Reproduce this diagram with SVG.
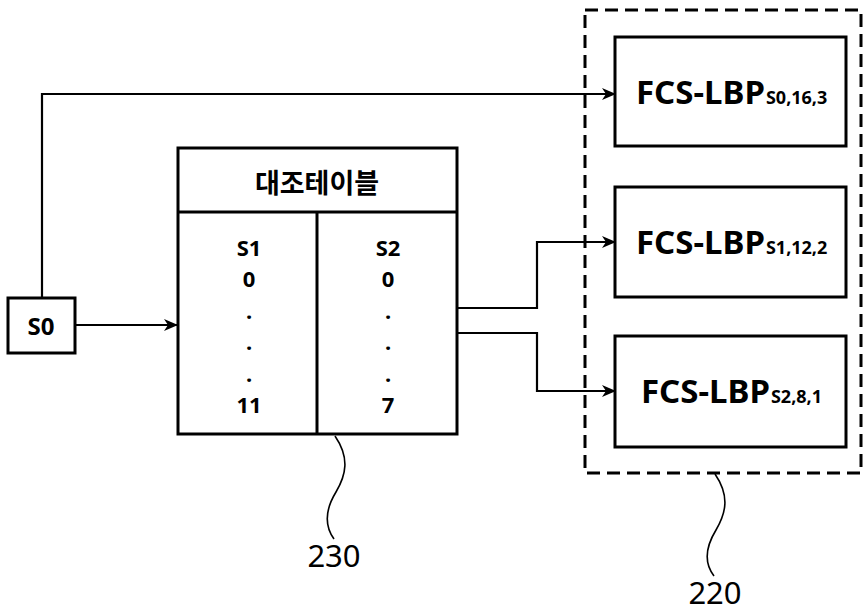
<svg xmlns="http://www.w3.org/2000/svg" width="864" height="612" viewBox="0 0 864 612">
<defs>
<style>
.box{fill:#fff;stroke:#000;stroke-width:3}
.ln{fill:none;stroke:#000;stroke-width:2.2}
.lead{fill:none;stroke:#000;stroke-width:1.6}
.t{font-family:"Noto Sans","Noto Sans CJK KR",sans-serif;font-weight:bold;fill:#000;text-anchor:middle}
.big{font-family:"Noto Sans","Open Sans",sans-serif;font-weight:bold;font-size:33px;fill:#000}
.sub{font-size:18px}
.num{font-family:"Noto Sans","Open Sans",sans-serif;font-size:31px;fill:#000;text-anchor:middle}
</style>
<marker id="ah" markerWidth="14" markerHeight="12" refX="13" refY="6" orient="auto" markerUnits="userSpaceOnUse">
<path d="M0,0 L14,6 L0,12 L4,6 Z" fill="#000"/>
</marker>
</defs>
<rect width="864" height="612" fill="#fff"/>
<g id="group220">
<rect x="585" y="10" width="276" height="463" fill="none" stroke="#000" stroke-width="3" stroke-dasharray="13,7"/>
</g>
<g id="fcs0">
<rect class="box" x="615" y="37" width="231" height="109"/>
<text class="big" x="636" y="104">FCS-LBP<tspan class="sub" dx="1">S0,16,3</tspan></text>
</g>
<g id="fcs1">
<rect class="box" x="615" y="187" width="231" height="110"/>
<text class="big" x="636" y="254">FCS-LBP<tspan class="sub" dx="1">S1,12,2</tspan></text>
</g>
<g id="fcs2">
<rect class="box" x="615" y="336" width="231" height="111"/>
<text class="big" x="641" y="403">FCS-LBP<tspan class="sub" dx="1">S2,8,1</tspan></text>
</g>
<g id="s0">
<rect class="box" x="8" y="298" width="67" height="55"/>
<text class="t" x="41" y="335" font-size="24">S0</text>
</g>
<g id="table230">
<rect class="box" x="178" y="148" width="279" height="286"/>
<line x1="178" y1="212" x2="457" y2="212" stroke="#000" stroke-width="3"/>
<line x1="317" y1="212" x2="317" y2="434" stroke="#000" stroke-width="3"/>
<text class="t" x="317" y="193" font-size="27">대조테이블</text>
<g class="t" font-size="22">
<text x="249" y="256">S1</text>
<text x="249" y="287">0</text>
<text x="249" y="319">.</text>
<text x="249" y="350">.</text>
<text x="249" y="382">.</text>
<text x="249" y="413">11</text>
<text x="388" y="256">S2</text>
<text x="388" y="287">0</text>
<text x="388" y="319">.</text>
<text x="388" y="350">.</text>
<text x="388" y="382">.</text>
<text x="388" y="413">7</text>
</g>
</g>
<g id="connectors">
<polyline class="ln" points="42,298 42,94 615,94" marker-end="url(#ah)"/>
<line class="ln" x1="75" y1="325" x2="177" y2="325" marker-end="url(#ah)"/>
<polyline class="ln" points="457,308 537,308 537,242 615,242" marker-end="url(#ah)"/>
<polyline class="ln" points="457,333 537,333 537,391 615,391" marker-end="url(#ah)"/>
<path class="lead" d="M335,436 C350,458 346,475 336,492 C325,510 324,525 334,539"/>
<path class="lead" d="M715,474 C730,496 726,513 716,530 C705,548 704,563 714,576"/>
</g>
<g id="labels">
<text class="num" x="334" y="567">230</text>
<text class="num" x="715" y="604">220</text>
</g>
</svg>
